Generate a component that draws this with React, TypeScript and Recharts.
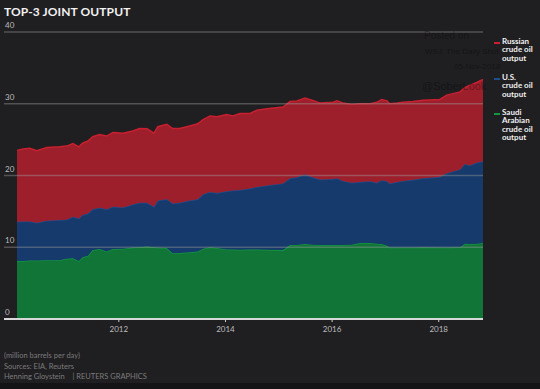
import { AreaChart, Area, XAxis, YAxis } from "recharts";

// month positions as decimal years
const dates = [
  2010.09, 2010.2, 2010.33, 2010.46, 2010.65, 2010.89, 2011.02, 2011.14, 2011.25, 2011.32,
  2011.42, 2011.51, 2011.64, 2011.77, 2011.89, 2012.08, 2012.26, 2012.39, 2012.53, 2012.66,
  2012.73, 2012.9, 2013.01, 2013.14, 2013.33, 2013.48, 2013.58, 2013.71, 2013.84, 2014.02,
  2014.14, 2014.27, 2014.46, 2014.59, 2014.78, 2015.08, 2015.21, 2015.34, 2015.49, 2015.62,
  2015.77, 2016.02, 2016.09, 2016.2, 2016.37, 2016.52, 2016.71, 2016.84, 2016.93, 2017.03,
  2017.08, 2017.22, 2017.33, 2017.52, 2017.7, 2018.02, 2018.15, 2018.4, 2018.49, 2018.58,
  2018.72, 2018.83,
];

// million barrels per day
const saudi = [
  8.1, 8.1, 8.15, 8.15, 8.2, 8.2, 8.4, 8.45, 8.1, 8.6,
  8.8, 9.6, 9.75, 9.4, 9.75, 9.8, 9.95, 10.0, 10.1, 10.0,
  9.95, 9.9, 9.15, 9.2, 9.3, 9.4, 9.8, 10.0, 9.9, 9.7,
  9.7, 9.65, 9.7, 9.7, 9.65, 9.6, 10.3, 10.3, 10.45, 10.35,
  10.3, 10.3, 10.3, 10.3, 10.35, 10.6, 10.6, 10.5, 10.45, 10.2,
  9.95, 9.95, 9.95, 9.95, 10.0, 9.95, 9.95, 10.0, 10.5, 10.45,
  10.5, 10.6,
];

const us = [
  5.45, 5.5, 5.45, 5.25, 5.5, 5.6, 5.45, 5.8, 5.9, 5.9,
  5.9, 5.7, 5.75, 5.9, 5.9, 5.75, 6.02, 6.2, 6.1, 5.65,
  6.55, 6.8, 6.95, 7.0, 7.2, 7.3, 7.6, 7.7, 7.65, 8.1,
  8.2, 8.32, 8.5, 8.7, 8.95, 9.3, 9.3, 9.45, 9.7, 9.45,
  9.15, 9.2, 9.3, 8.95, 8.65, 8.5, 8.6, 8.5, 8.9, 9.0,
  8.95, 9.15, 9.3, 9.45, 9.6, 9.85, 10.35, 10.85, 11.1, 10.95,
  11.3, 11.4,
];

const russia = [
  9.95, 10.1, 10.2, 10.05, 10.2, 10.2, 10.25, 10.2, 10.0, 10.0,
  10.1, 10.1, 10.2, 10.2, 10.35, 10.35, 10.23, 10.35, 10.3, 10.25,
  10.3, 10.45, 10.45, 10.35, 10.4, 10.5, 10.4, 10.6, 10.65, 10.7,
  10.4, 10.68, 10.45, 10.7, 10.7, 10.65, 10.7, 10.65, 10.65, 10.7,
  10.65, 10.7, 10.8, 10.85, 10.9, 10.9, 10.8, 11.2, 11.25, 11.2,
  11.1, 11.0, 10.95, 10.9, 10.9, 10.8, 10.9, 10.8, 10.65, 11.15,
  11.2, 11.4,
];

const yearTicks = [2012, 2014, 2016, 2018];
const valueTicks = [0, 10, 20, 30, 40];

const data = dates.map((d, i) => ({
  date: d,
  saudi: saudi[i],
  us: us[i],
  russia: russia[i],
}));

const BG = "#1f1e21";

const legendItems = [
  { label: "Russian\ncrude oil\noutput", color: "#c8202f", top: 37 },
  { label: "U.S.\ncrude oil\noutput", color: "#1e4d8c", top: 73 },
  { label: "Saudi\nArabian\ncrude oil\noutput", color: "#12963f", top: 108 },
];

// grid line + label drawn across from the left edge of the frame
const ValueTick = (props: any) => {
  const { y, payload } = props;
  const zero = payload.value === 0;
  return (
    <g>
      <line
        x1={4}
        x2={483}
        y1={y}
        y2={y}
        stroke={zero ? "#d8d8d8" : "#9a9a9a"}
        strokeOpacity={zero ? 1 : 0.42}
        strokeWidth={zero ? 2 : 1.5}
      />
      <text x={5} y={y - 4} fill="#bdbdbd" fontSize={8} fontFamily="Lato, sans-serif">
        {payload.value}
      </text>
    </g>
  );
};

export default function App() {
  return (
    <div
      style={{
        position: "absolute",
        left: 0,
        top: 0,
        width: 540,
        height: 389,
        background: BG,
        fontFamily: "Lato, sans-serif",
        overflow: "hidden",
      }}
    >
      <div
        style={{
          position: "absolute",
          left: 4,
          top: 4,
          color: "#f2f2f2",
          fontWeight: 700,
          fontSize: 12,
          letterSpacing: 0.1,
        }}
      >
        TOP-3 JOINT OUTPUT
      </div>

      <AreaChart
        width={540}
        height={389}
        data={data}
        margin={{ top: 32, right: 57, left: 4, bottom: 50 }}
      >
        <XAxis
          dataKey="date"
          type="number"
          domain={[2010.09, 2018.83]}
          ticks={yearTicks}
          axisLine={false}
          tickLine={{ stroke: "#cfcfcf" }}
          tickSize={3}
          height={20}
          tick={{ fill: "#bdbdbd", fontSize: 8, fontFamily: "Lato, sans-serif" }}
          tickMargin={4}
        />
        <YAxis
          type="number"
          domain={[0, 40]}
          ticks={valueTicks}
          width={13}
          axisLine={false}
          tickLine={false}
          tick={<ValueTick />}
        />
        <Area
          type="linear"
          dataKey="saudi"
          stackId="1"
          stroke="#12963f"
          strokeWidth={1.5}
          fill="#117538"
          fillOpacity={1}
          isAnimationActive={false}
        />
        <Area
          type="linear"
          dataKey="us"
          stackId="1"
          stroke="#1e4d8c"
          strokeWidth={1.5}
          fill="#163a6b"
          fillOpacity={1}
          isAnimationActive={false}
        />
        <Area
          type="linear"
          dataKey="russia"
          stackId="1"
          stroke="#c8202f"
          strokeWidth={1.5}
          fill="#9e1f2c"
          fillOpacity={1}
          isAnimationActive={false}
        />
      </AreaChart>

      {legendItems.map((item) => (
        <div key={item.color} style={{ position: "absolute", left: 494, top: item.top }}>
          <div
            style={{
              position: "absolute",
              left: 0,
              top: 5,
              width: 6,
              height: 2,
              background: item.color,
            }}
          />
          <div
            style={{
              position: "absolute",
              left: 8,
              top: 0,
              color: "#f0f0f0",
              fontSize: 8,
              fontWeight: 700,
              lineHeight: "8.3px",
              whiteSpace: "pre",
            }}
          >
            {item.label}
          </div>
        </div>
      ))}

      <div
        style={{
          position: "absolute",
          left: 4,
          top: 351,
          color: "#7c7c7c",
          fontSize: 7.5,
          lineHeight: "10.6px",
        }}
      >
        <div>(million barrels per day)</div>
        <div>Sources: EIA, Reuters</div>
        <div>
          Henning Gloystein&nbsp;&nbsp;&nbsp;&nbsp;| REUTERS GRAPHICS
        </div>
      </div>

      <div
        style={{
          position: "absolute",
          left: 0,
          top: 383,
          width: 540,
          height: 6,
          background: "#141315",
        }}
      />

      {/* faint watermark over the top right of the chart */}
      <div
        style={{
          position: "absolute",
          left: 410,
          top: 28,
          color: "rgba(0,0,0,0.35)",
          fontFamily: "'Liberation Sans', Arial, sans-serif",
          pointerEvents: "none",
          whiteSpace: "nowrap",
        }}
      >
        <div style={{ position: "absolute", left: 14, top: 2, fontSize: 10 }}>Posted on</div>
        <div style={{ position: "absolute", left: 15, top: 19, fontSize: 8 }}>
          WSJ: The Daily Shot
        </div>
        <div style={{ position: "absolute", left: 44, top: 34, fontSize: 8 }}>
          05-Nov-2018
        </div>
        <div style={{ position: "absolute", left: 12, top: 52, fontSize: 11 }}>
          @SoberLook
        </div>
      </div>
    </div>
  );
}
